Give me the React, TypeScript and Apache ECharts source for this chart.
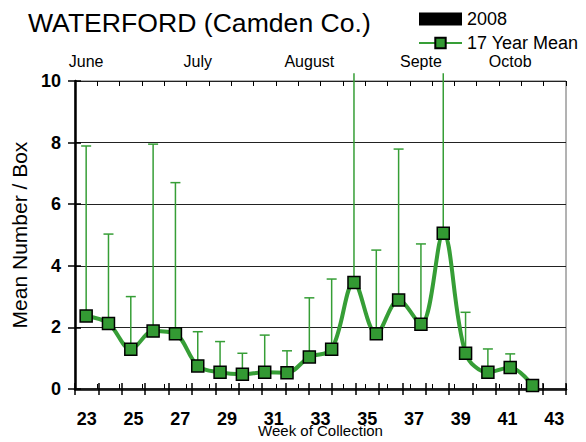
import React, { useEffect, useRef } from "react";
import * as echarts from "echarts";

const weeks = ["23","24","25","26","27","28","29","30","31","32","33","34","35","36","37","38","39","40","41","42","43"];
const means = [2.37, 2.13, 1.29, 1.88, 1.79, 0.75, 0.54, 0.48, 0.54, 0.53, 1.04, 1.29, 3.46, 1.79, 2.89, 2.10, 5.06, 1.16, 0.54, 0.70, 0.11];
// upper end of the error bar (values above 10 run off the top of the plot)
const upper = [7.89, 5.03, 3.0, 7.95, 6.7, 1.86, 1.54, 1.16, 1.75, 1.24, 2.96, 3.57, 10.25, 4.51, 7.79, 4.71, 10.25, 2.49, 1.3, 1.14, null];
const topSlots = ["s0","s1","s2","s3","s4","s5","s6","s7","s8","s9","s10","s11","s12","s13","s14","s15","s16","s17","s18","s19","s20","s21"];
const monthLabels = ["June", "July", "August", "Septe", "Octob"];
const monthSlots = [0, 5, 10, 15, 19];
const yTicks = [0, 2, 4, 6, 8, 10];

const FONT = "Liberation Sans, Arial, Helvetica, sans-serif";
const GREEN = "#369e36";

export default function App() {
  const ref = useRef<HTMLDivElement>(null);
  useEffect(() => {
    if (!ref.current) return;
    const chart = echarts.init(ref.current, undefined, { renderer: "svg" });
    const grid = {
      left: 75, right: 20, top: 81, bottom: 53,
      outerBoundsMode: "none", containLabel: false,
      show: true, borderColor: "#666", borderWidth: 1,
    };
    const errData = upper
      .map((u, i) => (u == null ? null : [i, means[i], u]))
      .filter((d) => d !== null);
    chart.setOption({
      animation: false,
      backgroundColor: "#fff",
      title: {
        text: "WATERFORD (Camden Co.)",
        left: 23,
        top: 4,
        textStyle: { fontFamily: FONT, fontSize: 26.6, fontWeight: "normal", color: "#000" },
      },
      legend: {
        orient: "vertical",
        left: 418,
        top: 10,
        padding: 0,
        itemWidth: 43,
        itemHeight: 13,
        itemGap: 6,
        textStyle: { fontFamily: FONT, fontSize: 18, color: "#000" },
        data: [
          { name: "2008", icon: "rect" },
          { name: "17 Year Mean" },
        ],
      },
      grid,
      xAxis: [
        {
          type: "category",
          data: weeks,
          position: "bottom",
          gridIndex: 0,
          boundaryGap: true,
          axisLine: { show: true, lineStyle: { color: "#000", width: 2.5 } },
          axisTick: { show: true, interval: 0, length: 6, lineStyle: { color: "#000", width: 1.5 } },
          axisLabel: { interval: 1, margin: 21, fontFamily: FONT, fontSize: 18, fontWeight: "bold", color: "#000" },
          name: "Week of Collection",
          nameLocation: "middle",
          nameGap: 34,
          nameMoveOverlap: false,
          nameTextStyle: { fontFamily: FONT, fontSize: 15, color: "#000" },
        },
        {
          type: "category",
          data: topSlots,
          position: "top",
          gridIndex: 0,
          boundaryGap: true,
          axisLine: { show: true, lineStyle: { color: "#222", width: 1.5 } },
          axisTick: { show: true, interval: 0, length: 5, lineStyle: { color: "#000", width: 1 } },
          axisLabel: {
            interval: 0,
            margin: 12,
            fontFamily: FONT,
            fontSize: 16,
            color: "#000",
            formatter: (_v: string, idx: number) => {
              const k = monthSlots.indexOf(idx);
              return k >= 0 ? monthLabels[k] : "";
            },
          },
        },
        {
          type: "category",
          data: topSlots,
          position: "top",
          gridIndex: 0,
          boundaryGap: true,
          axisLine: { show: false },
          axisTick: { show: true, inside: true, interval: 0, length: 5, lineStyle: { color: "#000", width: 1 } },
          axisLabel: { show: false },
        },
        {
          type: "category",
          data: weeks,
          position: "bottom",
          gridIndex: 0,
          boundaryGap: true,
          axisLine: { show: false },
          axisTick: { show: true, inside: true, interval: 0, length: 6, lineStyle: { color: "#000", width: 1.5 } },
          axisLabel: { show: false },
        },
      ],
      yAxis: [
        {
          type: "value",
          min: yTicks[0],
          max: yTicks[yTicks.length - 1],
          interval: 2,
          position: "left",
          axisLine: { show: true, lineStyle: { color: "#000", width: 2.5 } },
          axisTick: { show: true, length: 7, lineStyle: { color: "#000", width: 1.5 } },
          axisLabel: { margin: 14, fontFamily: FONT, fontSize: 18, fontWeight: "bold", color: "#000" },
          splitLine: { show: true, lineStyle: { color: "#222", width: 1 } },
          name: "Mean Number / Box",
          nameLocation: "middle",
          nameGap: 44,
          nameTextStyle: { fontFamily: FONT, fontSize: 21, color: "#000" },
        },
        {
          type: "value",
          min: yTicks[0],
          max: yTicks[yTicks.length - 1],
          interval: 2,
          position: "left",
          axisLine: { show: false },
          axisTick: { show: true, inside: true, length: 6, lineStyle: { color: "#000", width: 1.5 } },
          axisLabel: { show: false },
          splitLine: { show: false },
        },
      ],
      series: [
        {
          name: "2008",
          type: "bar",
          xAxisIndex: 0,
          yAxisIndex: 0,
          data: [],
          itemStyle: { color: "#000" },
        },
        {
          name: "errors",
          type: "custom",
          xAxisIndex: 1,
          yAxisIndex: 0,
          clip: false,
          z: 2,
          encode: { x: 0, y: 1 },
          data: errData,
          renderItem: (_params: any, api: any) => {
            const i = api.value(0);
            const m = api.value(1);
            const u = api.value(2);
            const p0 = api.coord([i, m]);
            const p1 = api.coord([i, Math.min(u, 10.25)]);
            const style = { stroke: GREEN, lineWidth: 1.5 };
            const children: any[] = [
              { type: "line", shape: { x1: p0[0], y1: p0[1], x2: p1[0], y2: p1[1] }, style },
            ];
            if (u <= 10) {
              children.push({ type: "line", shape: { x1: p1[0] - 5, y1: p1[1], x2: p1[0] + 5, y2: p1[1] }, style });
            }
            return { type: "group", children };
          },
        },
        {
          name: "17 Year Mean",
          type: "line",
          xAxisIndex: 1,
          yAxisIndex: 0,
          data: means,
          smooth: 0.35,
          z: 3,
          symbol: "rect",
          symbolSize: 12,
          lineStyle: { color: GREEN, width: 4 },
          itemStyle: { color: "#339933", borderColor: "#000", borderWidth: 1.5 },
        },
      ],
    });
    return () => chart.dispose();
  }, []);
  return <div ref={ref} style={{ position: "fixed", left: 0, top: 0, width: 586, height: 442 }} />;
}
